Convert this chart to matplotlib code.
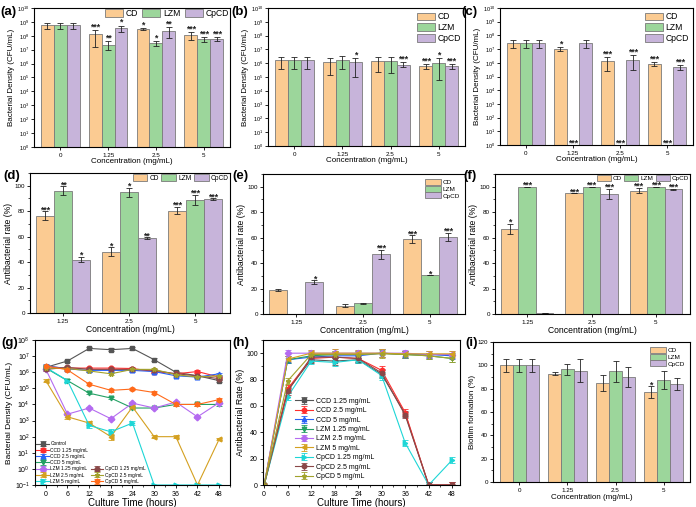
import numpy as np
import matplotlib.pyplot as plt
from matplotlib.ticker import FixedLocator, NullLocator, MultipleLocator, FuncFormatter

plt.rcParams['font.family'] = ['Liberation Sans', 'DejaVu Sans']
plt.rcParams['mathtext.fontset'] = 'custom'
plt.rcParams['mathtext.rm'] = 'Liberation Sans'
plt.rcParams['mathtext.it'] = 'Liberation Sans:italic'
plt.rcParams['mathtext.bf'] = 'Liberation Sans:bold'
plt.rcParams['axes.linewidth'] = 0.8
plt.rcParams['xtick.major.width'] = 0.6
plt.rcParams['ytick.major.width'] = 0.6
plt.rcParams['xtick.minor.width'] = 0.5
plt.rcParams['ytick.minor.width'] = 0.5
plt.rcParams['xtick.major.size'] = 2.5
plt.rcParams['ytick.major.size'] = 2.5
plt.rcParams['xtick.minor.size'] = 1.5
plt.rcParams['ytick.minor.size'] = 1.5
plt.rcParams['xtick.major.pad'] = 1.5
plt.rcParams['ytick.major.pad'] = 1.2

# ---------------- datos ----------------
names = ['CD', 'LZM', 'CpCD']
conc4 = ['0', '1.25', '2.5', '5']
conc3 = ['1.25', '2.5', '5']

# (a) densidad bacteriana, filas = CD, LZM, CpCD
a_val = [[6e8, 1.3e8, 3.0e8, 1.1e8], [6e8, 2.3e7, 2.8e7, 6e7], [6e8, 3.5e8, 2.3e8, 6e7]]
a_lo = [[3e8, 1.5e7, 2.5e8, 5e7], [3e8, 9e6, 1.8e7, 3.5e7], [3e8, 1.8e8, 7e7, 4.5e7]]
a_hi = [[9e8, 2.5e8, 3.7e8, 1.8e8], [9e8, 4e7, 4e7, 8e7], [9e8, 5.5e8, 4.5e8, 8e7]]
a_star = [['', '***', '*', '***'], ['', '**', '*', '***'], ['', '*', '**', '***']]

# (b)
b_val = [[1.6e6, 1.3e6, 1.5e6, 6e5], [1.6e6, 1.8e6, 1.5e6, 1.1e6], [1.6e6, 1.3e6, 8e5, 6.5e5]]
b_lo = [[3.5e5, 1.5e5, 2.5e5, 3.5e5], [3.5e5, 4e5, 2e5, 6e4], [3.5e5, 1e5, 5e5, 4e5]]
b_hi = [[3e6, 2.5e6, 2.6e6, 8.5e5], [3e6, 3.5e6, 2.6e6, 2.2e6], [3e6, 2.2e6, 1.2e6, 9e5]]
b_star = [['', '', '', '***'], ['', '', '', '*'], ['', '*', '***', '***']]

# (c)  LZM = 0 (no hay barra)
c_val = [[3e7, 1e7, 1.4e6, 8e5], [3e7, np.nan, np.nan, np.nan], [3e7, 3e7, 1.6e6, 5e5]]
c_lo = [[1.2e7, 7e6, 2.5e5, 5.5e5], [1.2e7, np.nan, np.nan, np.nan], [1.2e7, 1.2e7, 2.8e5, 3e5]]
c_hi = [[5e7, 1.4e7, 2.5e6, 1.1e6], [5e7, np.nan, np.nan, np.nan], [5e7, 5e7, 3.5e6, 7e5]]
c_star = [['', '*', '***', '***'], ['', '***', '***', '***'], ['', '', '***', '***']]

# (d) tasa antibacteriana
d_val = [[76.5, 48, 80.5], [96, 95, 89], [42, 59, 89.5]]
d_err = [[3.5, 3.5, 3], [3.5, 3.5, 4], [2, 0.5, 0.5]]
d_star = [['***', '*', '***'], ['**', '*', '***'], ['*', '**', '***']]

# (e)
e_val = [[19, 6.5, 59], [0, 8.5, 30.5], [25, 47, 60.5]]
e_err = [[1, 1, 3], [0, 0.5, 0], [1.5, 3.5, 3.5]]
e_star = [['', '', '***'], ['', '', '*'], ['*', '***', '***']]

# (f)
f_val = [[67, 95, 97], [100, 100, 100], [0.8, 94.5, 98]]
f_err = [[4, 0, 2], [0, 0, 0], [0.3, 4, 0.5]]
f_star = [['*', '***', '***'], ['***', '***', '***'], ['', '***', '***']]

# (i) biofilm
i_val = [[100, 93, 85, 77], [100, 96.5, 95, 87.5], [100, 95.5, 90, 84]]
i_err = [[5.5, 1.2, 7, 5], [5.5, 4.5, 9, 7.5], [5.5, 10, 8.5, 5]]
i_star = [['', '', '', '*'], ['', '', '', ''], ['', '', '', '']]

# (g) curvas de crecimiento
t = [0, 6, 12, 18, 24, 30, 36, 42, 48]
g_labels = ['Control', 'CCD 1.25 mg/mL', 'CCD 2.5 mg/mL', 'CCD 5 mg/mL', 'LZM 1.25 mg/mL',
            'LZM 2.5 mg/mL', 'LZM 5 mg/mL', 'CpCD 1.25 mg/mL', 'CpCD 2.5 mg/mL', 'CpCD 5 mg/mL']
g_control = [2e6, 5e6, 3e7, 2.5e7, 3e7, 6e6, 1e6, 6e5, 3e5]
g_ccd125 = [2.2e6, 1.8e6, 1.8e6, 1.8e6, 1.7e6, 1.1e6, 8e5, 1.1e6, 5e5]
g_ccd25 = [2.6e6, 1.6e6, 1.3e6, 1.3e6, 1.3e6, 1.1e6, 6e5, 5e5, 8e5]
g_ccd5 = [1.8e6, 3e5, 5e4, 2.5e4, 6e3, 6e3, 1e4, 1e4, 1e4]
g_lzm125 = [1.5e6, 2.5e3, 6e3, 1.3e3, 1.2e4, 6e3, 1.4e4, 1.7e3, 1.3e4]
g_lzm25 = [3e5, 1.7e3, 7e2, 1e2, 7e3, 1e2, 1e2, 1e-1, 7e1]
g_lzm5 = [2e6, 3e5, 5e2, 2e2, 7e2, 1e-1, 1e-1, 1e-1, 1e-1]
g_cp125 = [1.5e6, 2e6, 1.5e6, 1.5e6, 1.5e6, 1.3e6, 8e5, 6e5, 4e5]
g_cp25 = [1.8e6, 1.7e6, 1.2e6, 8e5, 1.5e6, 1.5e6, 7e5, 5e5, 6e5]
g_cp5 = [2.5e6, 1.4e6, 1.8e5, 7.5e4, 9e4, 5.5e4, 1e4, 1e4, 2e4]
# error relativo
g_rel = [0.2, 0.2, 0.2, 0.2, 0.2, 0.2, 0.2, 0.2, 0.2]
g_rel_lzm25 = [0.2, 0.3, 0.4, 0.5, 0.2, 0.2, 0.2, 0.0, 0.2]
g_rel_lzm5 = [0.2, 0.2, 0.5, 0.6, 0.4, 0.0, 0.0, 0.0, 0.0]

# (h) tasa antibacteriana en el tiempo
h_labels = ['CCD 1.25 mg/mL', 'CCD 2.5 mg/mL', 'CCD 5 mg/mL', 'LZM 1.25 mg/mL', 'LZM 2.5 mg/mL',
            'LZM 5 mg/mL', 'CpCD 1.25 mg/mL', 'CpCD 2.5 mg/mL', 'CpCD 5 mg/mL']
h_ccd125 = [0, 72, 95, 94, 95, 84, 54, 0, 0]
h_ccd25 = [0, 73, 96, 97, 96, 87, 55, 0, 0]
h_ccd5 = [0, 95, 97, 98, 98, 100, 99, 99, 98]
h_lzm125 = [0, 95, 98, 99, 99, 100, 99, 98, 96]
h_lzm25 = [0, 100, 100, 100, 100, 100, 100, 99, 99]
h_lzm5 = [0, 95.5, 100, 100, 100, 100, 99.5, 99.5, 99.5]
h_cp125 = [0, 67, 94, 93, 95, 83, 32, 0, 19]
h_cp25 = [0, 71, 97, 97, 96, 85, 53, 0, 0]
h_cp5 = [0, 79, 99, 99, 99, 99.5, 99, 98, 96]
h_err = [0, 2.5, 2.5, 3, 2.5, 3, 2.5, 2.5, 2.5]

bar_colors = ['#FBCB92', '#9CD69B', '#C7B4DA']
edge = '#7a7a7a'


def log_fmt(v, pos):
    return r'$10^{%d}$' % round(np.log10(v))


def bar_panel(ax, cats, vals, stars, lo=None, hi=None, err=None, log=False, sfs=6.3):
    x = np.arange(len(cats))
    w = 0.27
    for k in range(3):
        xs = x + (k - 1) * w
        v = np.array(vals[k], dtype=float)
        if log:
            yerr = [v - np.array(lo[k]), np.array(hi[k]) - v]
            top = np.array(hi[k])
        else:
            yerr = np.array(err[k])
            top = v + yerr
        ax.bar(xs, v, w, color=bar_colors[k], edgecolor=edge, linewidth=0.6, label=names[k])
        ax.errorbar(xs, v, yerr=yerr, fmt='none', ecolor='#222222', elinewidth=0.6,
                    capsize=2, capthick=0.6)
        for j in range(len(cats)):
            s = stars[k][j]
            if s == '':
                continue
            if log:
                y = 0.85 if np.isnan(top[j]) else top[j] * 1.1
            else:
                y = top[j] - 0.8
            ax.text(xs[j], y, s, ha='center', va='baseline', fontsize=sfs, fontweight='bold',
                    color='#222222')
    ax.set_xticks(x)
    ax.set_xticklabels(cats)
    ax.set_xlim(-0.55, len(cats) - 1 + 0.55)
    ax.tick_params(labelsize=4.5)
    if log:
        ax.set_yscale('log')
        ax.set_ylim(1, 1e10)
        ax.yaxis.set_major_locator(FixedLocator([10.0 ** i for i in range(11)]))
        ax.yaxis.set_minor_locator(NullLocator())
        ax.yaxis.set_major_formatter(FuncFormatter(log_fmt))
        ax.tick_params(axis='y', labelsize=4)


fig = plt.figure(figsize=(6.96, 5.07), dpi=100)
W, H = 696.0, 507.0


def add_ax(l, r, t, b):
    return fig.add_axes([l / W, 1 - b / H, (r - l) / W, (b - t) / H])


big_leg = dict(frameon=False, fontsize=6.2, handlelength=2.1, handleheight=1.0,
               handletextpad=0.3, borderpad=0.1)

# ---- fila 1 ----
axa = add_ax(34, 230, 8, 147)
bar_panel(axa, conc4, a_val, a_star, a_lo, a_hi, log=True)
axa.legend(loc='upper right', ncol=3, columnspacing=0.5, borderaxespad=0.05, **big_leg)

axb = add_ax(268, 465, 8, 146)
bar_panel(axb, conc4, b_val, b_star, b_lo, b_hi, log=True)
axb.legend(loc='upper right', labelspacing=0.2, borderaxespad=0.4, **big_leg)

axc = add_ax(500, 693, 8, 145)
bar_panel(axc, conc4, c_val, c_star, c_lo, c_hi, log=True)
axc.legend(loc='upper right', labelspacing=0.2, borderaxespad=0.4, **big_leg)

for ax in (axa, axb, axc):
    ax.set_xlabel('Concentration (mg/mL)', fontsize=5.8, labelpad=0.5)
    ax.set_ylabel('Bacterial Density (CFU/mL)', fontsize=5.8, labelpad=1)

# ---- fila 2 ----
axd = add_ax(30, 230, 173, 313)
bar_panel(axd, conc3, d_val, d_star, err=d_err)
axd.legend(loc='upper right', ncol=3, frameon=False, fontsize=4.8, handlelength=2.2, handleheight=1.1,
           columnspacing=0.4, handletextpad=0.3, borderaxespad=0.1, borderpad=0.1)

axe = add_ax(263, 465, 174, 314)
bar_panel(axe, conc3, e_val, e_star, err=e_err)
axe.legend(loc='upper right', frameon=False, fontsize=4.6, handlelength=2.4, handleheight=1.0,
           labelspacing=0.1, handletextpad=0.3, borderaxespad=0.4)

axf = add_ax(495, 690, 174, 314)
bar_panel(axf, conc3, f_val, f_star, err=f_err)
axf.legend(loc='upper right', ncol=3, frameon=False, fontsize=4.6, handlelength=2.2, handleheight=1.1,
           columnspacing=0.4, handletextpad=0.3, borderaxespad=0.05, borderpad=0.1)

for ax in (axd, axe, axf):
    ax.set_ylim(0, 110)
    ax.yaxis.set_major_locator(MultipleLocator(20))
    ax.yaxis.set_minor_locator(MultipleLocator(10))
    ax.set_xlabel('Concentration (mg/mL)', fontsize=6.2, labelpad=1)
    ax.set_ylabel('Antibacterial rate (%)', fontsize=6.2, labelpad=1)
    ax.set_xlim(-0.5, 2.53)

# ---- fila 3 ----
g_series = [g_control, g_ccd125, g_ccd25, g_ccd5, g_lzm125, g_lzm25, g_lzm5, g_cp125, g_cp25, g_cp5]
g_errs = [g_rel, g_rel, g_rel, g_rel, g_rel, g_rel_lzm25, g_rel_lzm5, g_rel, g_rel, g_rel]
g_colors = ['#555555', '#FF2D2D', '#2A62F5', '#23A064', '#B46BF0', '#D4A020', '#1DD6D6',
            '#8A4848', '#A2A22C', '#FF6A1A']
g_markers = ['s', 'o', '^', 'v', 'D', '<', '>', 'o', '*', 'h']

axg = add_ax(35, 230, 340, 485)
g_handles = []
for k in range(len(g_series)):
    v = np.array(g_series[k])
    r = np.array(g_errs[k])
    h = axg.errorbar(t, v, yerr=[v * r / (1 + r), v * r], fmt='-', marker=g_markers[k],
                     color=g_colors[k], ms=3.4, lw=0.8, elinewidth=0.6, capsize=2, capthick=0.6,
                     label=g_labels[k])
    g_handles.append(h)
axg.set_yscale('log')
axg.set_ylim(1e-1, 1e8)
axg.yaxis.set_major_locator(FixedLocator([10.0 ** i for i in range(-1, 9)]))
axg.yaxis.set_minor_locator(NullLocator())
axg.yaxis.set_major_formatter(FuncFormatter(log_fmt))
axg.set_xlim(-3, 51)
axg.xaxis.set_major_locator(MultipleLocator(6))
axg.xaxis.set_minor_locator(MultipleLocator(3))
axg.tick_params(labelsize=5)
axg.set_xlabel('Culture Time (hours)', fontsize=7, labelpad=0)
axg.set_ylabel('Bacterial Density (CFU/mL)', fontsize=6, labelpad=1)
leg1 = axg.legend(handles=g_handles[:7], loc='lower left', frameon=False, fontsize=3.5,
                  handlelength=2.6, labelspacing=0.25, handletextpad=0.3, borderaxespad=0.15,
                  borderpad=0.1)
axg.add_artist(leg1)
axg.legend(handles=g_handles[7:], loc='lower left', bbox_to_anchor=(0.28, 0.0), frameon=False,
           fontsize=3.5, handlelength=2.6, labelspacing=0.25, handletextpad=0.3,
           borderaxespad=0.15, borderpad=0.1)

h_series = [h_ccd125, h_ccd25, h_ccd5, h_lzm125, h_lzm25, h_lzm5, h_cp125, h_cp25, h_cp5]
h_colors = ['#555555', '#FF2D2D', '#2A62F5', '#23A064', '#B46BF0', '#D4A020', '#1DD6D6',
            '#8A4848', '#A2A22C']
h_markers = ['s', 'o', '^', 'v', 'D', '<', '>', 'o', '*']

axh = add_ax(263, 460, 340, 485)
for k in range(len(h_series)):
    axh.errorbar(t, h_series[k], yerr=h_err, fmt='-', marker=h_markers[k], color=h_colors[k],
                 ms=3.2, lw=0.8, elinewidth=0.6, capsize=2.2, capthick=0.6, label=h_labels[k])
axh.set_xlim(-0.3, 50)
axh.set_ylim(0, 110)
axh.xaxis.set_major_locator(MultipleLocator(6))
axh.xaxis.set_minor_locator(MultipleLocator(3))
axh.yaxis.set_major_locator(MultipleLocator(20))
axh.yaxis.set_minor_locator(MultipleLocator(10))
axh.tick_params(labelsize=5)
axh.set_xlabel('Culture Time (hours)', fontsize=7, labelpad=0)
axh.set_ylabel('Antibacterial Rate (%)', fontsize=6.4, labelpad=1)
axh.legend(loc='lower left', bbox_to_anchor=(0.14, 0.0), frameon=False, fontsize=5,
           handlelength=2.6, labelspacing=0.35, handletextpad=0.3, borderpad=0.2)

axi = add_ax(493, 690, 342, 482)
bar_panel(axi, conc4, i_val, i_star, err=i_err)
axi.set_ylim(0, 120)
axi.yaxis.set_major_locator(MultipleLocator(20))
axi.yaxis.set_minor_locator(MultipleLocator(10))
axi.set_xlabel('Concentration (mg/mL)', fontsize=5.8, labelpad=1)
axi.set_ylabel('Biofilm formation (%)', fontsize=5.8, labelpad=1)
axi.legend(loc='upper right', frameon=False, fontsize=4.6, handlelength=2.4, handleheight=1.0,
           labelspacing=0.1, handletextpad=0.3, borderaxespad=0.4)

# etiquetas de paneles
labels = [('(a)', 0, 12), ('(b)', 231, 12), ('(c)', 461, 12),
          ('(d)', 3, 176), ('(e)', 232, 176), ('(f)', 463, 176),
          ('(g)', 1, 343), ('(h)', 232, 343), ('(i)', 465, 343)]
for s, px, py in labels:
    fig.text(px / W, 1 - py / H, s, fontsize=9.5, fontweight='bold', va='center', ha='left')

fig.savefig('out.png', dpi=100)
